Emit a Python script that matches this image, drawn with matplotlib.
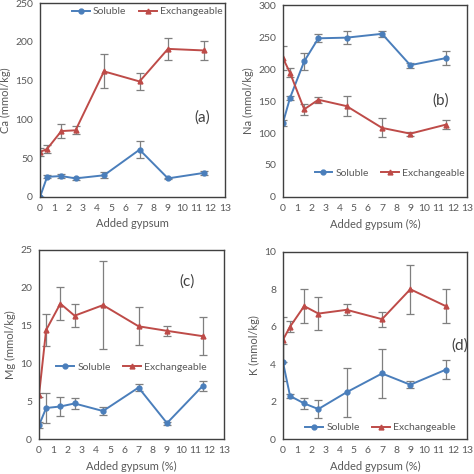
import numpy as np
import matplotlib
matplotlib.use('Agg')
import matplotlib.pyplot as plt

plt.rcParams['font.family'] = ['Lato', 'DejaVu Sans']

gypsum = [0, 0.5, 1.5, 2.5, 4.5, 7, 9, 11.5]

ca_sol = [0, 26, 27, 24, 28, 61, 24, 31]
ca_sol_err = [0, 2, 3, 2, 4, 11, 1, 3]
ca_exc = [58, 62, 85, 86, 162, 149, 191, 189]
ca_exc_err = [5, 5, 9, 5, 22, 11, 14, 12]

na_sol = [116, 155, 212, 248, 249, 255, 206, 217]
na_sol_err = [5, 3, 13, 6, 10, 5, 4, 11]
na_exc = [217, 194, 137, 152, 142, 108, 99, 113]
na_exc_err = [19, 7, 9, 5, 16, 15, 3, 7]

mg_sol = [1.8, 4.1, 4.3, 4.7, 3.7, 6.8, 2.1, 7.0]
mg_sol_err = [0.4, 2.0, 1.2, 0.7, 0.5, 0.5, 0.2, 0.7]
mg_exc = [5.8, 14.4, 17.9, 16.3, 17.7, 14.9, 14.3, 13.6]
mg_exc_err = [0.3, 2.1, 2.2, 1.5, 5.8, 2.5, 0.7, 2.5]

k_sol = [4.1, 2.3, 1.9, 1.6, 2.5, 3.5, 2.9, 3.7]
k_sol_err = [1.0, 0.1, 0.3, 0.5, 1.3, 1.3, 0.2, 0.5]
k_exc = [5.3, 6.0, 7.1, 6.7, 6.9, 6.4, 8.0, 7.1]
k_exc_err = [1.2, 0.3, 0.9, 0.9, 0.3, 0.4, 1.3, 0.9]

blue = '#4a7ebb'
red = '#be4b48'
grey = '#7f7f7f'
txt = '#595959'

fig = plt.figure(figsize=(4.74, 4.74), dpi=100)

panels = [
    # rect, sol, sol_err, exc, exc_err, ymax, ystep, ylabel, xlabel, tag, tag pos, legend centre
    ([0.0844, 0.5844, 0.390, 0.409], ca_sol, ca_sol_err, ca_exc, ca_exc_err,
     250, 50, 'Ca (mmol/kg)', 'Added gypsum', '(a)', (0.88, 0.41), (0.58, 0.955)),
    ([0.597, 0.5844, 0.388, 0.405], na_sol, na_sol_err, na_exc, na_exc_err,
     300, 50, 'Na (mmol/kg)', 'Added gypsum (%)', '(b)', (0.86, 0.50), (0.58, 0.125)),
    ([0.0823, 0.0738, 0.390, 0.399], mg_sol, mg_sol_err, mg_exc, mg_exc_err,
     25, 5, 'Mg (mmol/kg)', 'Added gypsum (%)', '(c)', (0.80, 0.83), (0.50, 0.38)),
    ([0.597, 0.0738, 0.388, 0.395], k_sol, k_sol_err, k_exc, k_exc_err,
     10, 2, 'K (mmol/kg)', 'Added gypsum (%)', '(d)', (0.96, 0.50), (0.53, 0.06)),
]

for rect, sol, sol_e, exc, exc_e, ymax, ystep, ylab, xlab, tag, tpos, lpos in panels:
    ax = fig.add_axes(rect)
    ax.errorbar(gypsum, sol, yerr=sol_e, color=blue, marker='o', ms=3.5, lw=1.4,
                ecolor=grey, elinewidth=0.9, capsize=3, capthick=0.9, label='Soluble')
    ax.errorbar(gypsum, exc, yerr=exc_e, color=red, marker='^', ms=3.5, lw=1.4,
                ecolor=grey, elinewidth=0.9, capsize=3, capthick=0.9, label='Exchangeable')
    ax.set_xlim(0, 13)
    ax.set_ylim(0, ymax)
    ax.set_xticks(range(0, 14))
    ax.set_yticks(np.arange(0, ymax + 1, ystep))
    ax.tick_params(length=0, labelsize=7.5, colors=txt, pad=5)
    for s in ax.spines.values():
        s.set_color('#404040')
        s.set_linewidth(1.0)
    ax.set_ylabel(ylab, fontsize=8, color=txt, labelpad=3)
    ax.set_xlabel(xlab, fontsize=8, color=txt, labelpad=4)
    ax.text(tpos[0], tpos[1], tag, transform=ax.transAxes, fontsize=11,
            color='#404040', ha='center', va='center')
    handles, labels = ax.get_legend_handles_labels()
    ax.legend([h[0] for h in handles], labels, loc='center',
              bbox_to_anchor=lpos, ncol=2, frameon=False, fontsize=7.5,
              handlelength=1.7, handletextpad=0.3, columnspacing=1.2,
              borderpad=0, labelcolor=txt)

fig.savefig('out.png', dpi=100)
